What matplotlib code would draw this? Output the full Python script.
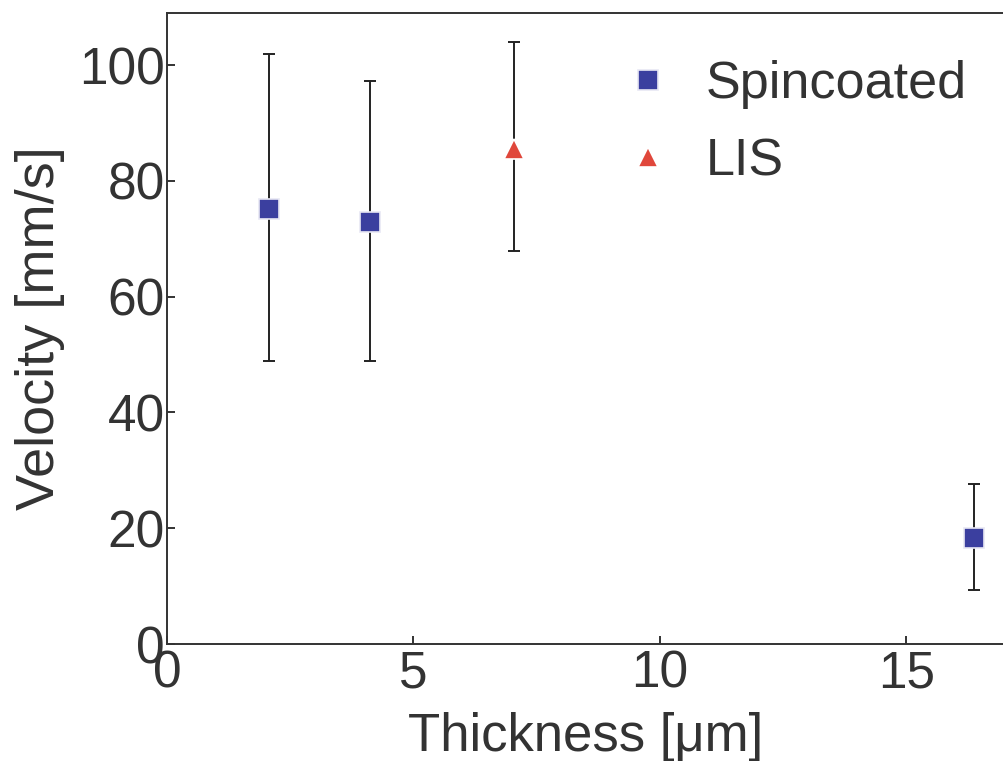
import matplotlib
matplotlib.use('Agg')
import matplotlib.pyplot as plt

plt.rcParams['font.family'] = ['Liberation Sans', 'DejaVu Sans']

# spincoated films
spin_thick = [2.06, 4.11, 16.38]
spin_vel = [75.2, 72.9, 18.3]
spin_lo = [48.8, 48.8, 9.3]
spin_hi = [101.9, 97.2, 27.6]

# LIS film
lis_thick = [7.04]
lis_vel = [85.5]
lis_lo = [67.9]
lis_hi = [104.0]

text_col = '#333333'
blue = '#3b3f9f'
red = '#e0473b'

fig = plt.figure(figsize=(10.04, 7.61), dpi=100)
ax = fig.add_axes([0.1663, 0.1537, 0.8347, 0.8293])

spin_err = [[v - l for v, l in zip(spin_vel, spin_lo)], [h - v for v, h in zip(spin_vel, spin_hi)]]
lis_err = [[v - l for v, l in zip(lis_vel, lis_lo)], [h - v for v, h in zip(lis_vel, lis_hi)]]

ax.errorbar(spin_thick, spin_vel, yerr=spin_err, fmt='none', ecolor='#222222',
            elinewidth=1.4, capsize=4, capthick=1.4, zorder=2)
ax.errorbar(lis_thick, lis_vel, yerr=lis_err, fmt='none', ecolor='#222222',
            elinewidth=1.4, capsize=4, capthick=1.4, zorder=2)
ax.plot(spin_thick, spin_vel, 's', ms=15, color=blue, mec='#e8e8f4', mew=1.2,
        zorder=3, label='Spincoated')
ax.plot(lis_thick, lis_vel, '^', ms=15, color=red, mec='white', mew=1.2,
        zorder=3, label='LIS')

ax.set_xlim(0, 17)
ax.set_ylim(0, 109)
ax.set_xticks([0, 5, 10, 15])
ax.set_yticks([0, 20, 40, 60, 80, 100])

for s in ax.spines.values():
    s.set_linewidth(1.4)
    s.set_color(text_col)
ax.spines['right'].set_visible(False)
ax.tick_params(direction='in', length=6, width=1.4, colors=text_col,
               labelsize=37, labelcolor=text_col)
ax.tick_params(axis='x', pad=4)
ax.tick_params(axis='y', pad=1.5)

ax.set_xlabel('Thickness [\u03bcm]', fontsize=38, color=text_col, labelpad=10)
ax.set_ylabel('Velocity [mm/s]', fontsize=39, color=text_col, labelpad=10)

leg = ax.legend(loc='upper left', bbox_to_anchor=(0.487, 1.0), frameon=False,
                fontsize=37.5, handletextpad=0.6, labelspacing=0.55,
                handlelength=1.0, markerscale=0.95)
for t in leg.get_texts():
    t.set_color(text_col)

fig.savefig('out.png', dpi=100)
